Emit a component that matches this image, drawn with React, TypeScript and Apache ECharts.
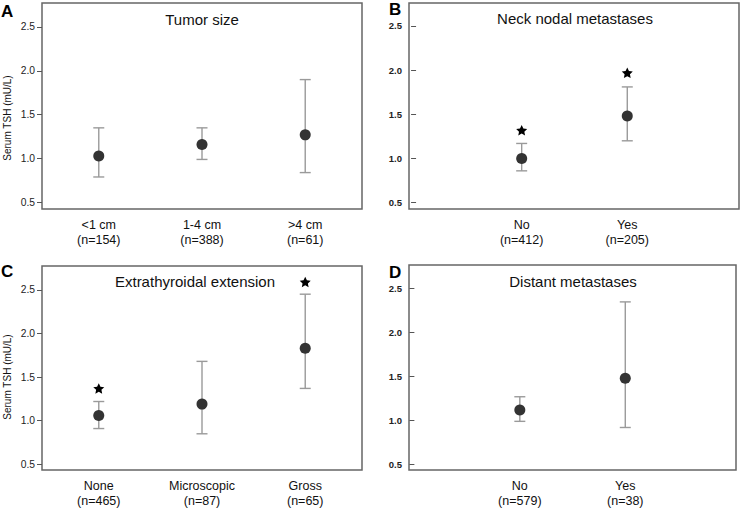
import React, { useEffect, useRef } from "react";
import * as echarts from "echarts";

// ---- Data ----
const panelLetters = ["A", "B", "C", "D"];
const panelTitles = ["Tumor size", "Neck nodal metastases", "Extrathyroidal extension", "Distant metastases"];
const yAxisTitle = "Serum TSH (mU/L)";
const yTicks = [0.5, 1.0, 1.5, 2.0, 2.5];

const tumorCategories = ["<1 cm", "1-4 cm", ">4 cm"];
const tumorN = [154, 388, 61];
const tumorMean = [1.03, 1.16, 1.27];
const tumorLow = [0.79, 0.99, 0.84];
const tumorHigh = [1.35, 1.35, 1.9];
const tumorStars: (number | null)[] = [null, null, null];

const neckCategories = ["No", "Yes"];
const neckN = [412, 205];
const neckMean = [1.0, 1.48];
const neckLow = [0.86, 1.2];
const neckHigh = [1.17, 1.81];
const neckStars: (number | null)[] = [1.32, 1.97];

const eteCategories = ["None", "Microscopic", "Gross"];
const eteN = [465, 87, 65];
const eteMean = [1.06, 1.19, 1.83];
const eteLow = [0.91, 0.85, 1.37];
const eteHigh = [1.22, 1.68, 2.45];
const eteStars: (number | null)[] = [1.37, null, 2.59];

const distantCategories = ["No", "Yes"];
const distantN = [579, 38];
const distantMean = [1.12, 1.48];
const distantLow = [0.99, 0.92];
const distantHigh = [1.27, 2.35];
const distantStars: (number | null)[] = [null, null];

const FONT = '"Liberation Sans", Arial, Helvetica, sans-serif';
const STAR =
  "path://M0 -10 L2.9 -3.9 L9.51 -3.09 L4.6 1.5 L5.88 8.09 L0 4.8 L-5.88 8.09 L-4.6 1.5 L-9.51 -3.09 L-2.9 -3.9 Z";

const panels = [
  { cats: tumorCategories, n: tumorN, mean: tumorMean, low: tumorLow, high: tumorHigh, stars: tumorStars,
    grid: { left: 42, top: 3, width: 320, height: 206 }, xMin: 0.45, xMax: 3.55, yMin: 0.425, yMax: 2.773, bold: false },
  { cats: neckCategories, n: neckN, mean: neckMean, low: neckLow, high: neckHigh, stars: neckStars,
    grid: { left: 409, top: 3, width: 330, height: 206 }, xMin: -0.067, xMax: 3.058, yMin: 0.428, yMax: 2.76, bold: true },
  { cats: eteCategories, n: eteN, mean: eteMean, low: eteLow, high: eteHigh, stars: eteStars,
    grid: { left: 42, top: 266, width: 320, height: 205 }, xMin: 0.45, xMax: 3.55, yMin: 0.435, yMax: 2.773, bold: false },
  { cats: distantCategories, n: distantN, mean: distantMean, low: distantLow, high: distantHigh, stars: distantStars,
    grid: { left: 409, top: 265, width: 327, height: 205 }, xMin: -0.051, xMax: 3.05, yMin: 0.436, yMax: 2.77, bold: true },
];

const titlePos = [
  { x: 202, y: 19 },
  { x: 575, y: 18.5 },
  { x: 195, y: 281.5 },
  { x: 573, y: 281 },
];
const letterPos = [
  { x: 1, y: 11.5 },
  { x: 389, y: 9.5 },
  { x: 1, y: 271 },
  { x: 389, y: 272 },
];

export default function App() {
  const ref = useRef<HTMLDivElement>(null);
  useEffect(() => {
    document.body.style.margin = "0";
    const chart = echarts.init(ref.current!, null, { renderer: "svg" });

    const grids: any[] = [];
    const xAxes: any[] = [];
    const yAxes: any[] = [];
    const series: any[] = [];

    panels.forEach((p, i) => {
      grids.push({ ...p.grid, show: true, borderColor: "#666", borderWidth: 1.5, containLabel: false });
      const idx = p.cats.map((_, k) => k + 1);
      xAxes.push({
        type: "value", gridIndex: i, min: p.xMin, max: p.xMax,
        axisLine: { show: false }, axisTick: { show: false }, splitLine: { show: false },
        axisLabel: {
          customValues: idx, margin: 8, fontSize: 12.5, lineHeight: 15, color: "#111", fontFamily: FONT,
          formatter: (v: number) => {
            const k = Math.round(v) - 1;
            return `${p.cats[k]}\n(n=${p.n[k]})`;
          },
        },
      });
      yAxes.push({
        type: "value", gridIndex: i, min: p.yMin, max: p.yMax,
        axisLine: { show: false }, splitLine: { show: false },
        axisTick: { show: true, customValues: yTicks, length: 5, lineStyle: { color: "#555", width: 1 } },
        axisLabel: {
          customValues: yTicks, margin: 7, fontSize: p.bold ? 9.5 : 10.3,
          fontWeight: p.bold ? "bold" : "normal", color: "#222", fontFamily: FONT,
          formatter: (v: number) => v.toFixed(1),
        },
      });
      series.push({
        type: "custom", xAxisIndex: i, yAxisIndex: i,
        data: idx.map((x, k) => [x, p.low[k], p.high[k]]),
        renderItem: (params: any, api: any) => {
          const lo = api.coord([api.value(0), api.value(1)]);
          const hi = api.coord([api.value(0), api.value(2)]);
          const st = { stroke: "#9a9a9a", lineWidth: 1.4 };
          const w = 5.5;
          return {
            type: "group",
            children: [
              { type: "line", shape: { x1: lo[0], y1: lo[1], x2: hi[0], y2: hi[1] }, style: st },
              { type: "line", shape: { x1: lo[0] - w, y1: lo[1], x2: lo[0] + w, y2: lo[1] }, style: st },
              { type: "line", shape: { x1: hi[0] - w, y1: hi[1], x2: hi[0] + w, y2: hi[1] }, style: st },
            ],
          };
        },
        z: 2,
      });
      series.push({
        type: "scatter", xAxisIndex: i, yAxisIndex: i,
        data: idx.map((x, k) => [x, p.mean[k]]),
        symbol: "circle", symbolSize: 11,
        itemStyle: { color: "#333", opacity: 1 },
        z: 3,
      });
      const starData = idx
        .map((x, k) => (p.stars[k] == null ? null : [x, p.stars[k]]))
        .filter((d) => d !== null);
      if (starData.length) {
        series.push({
          type: "scatter", xAxisIndex: i, yAxisIndex: i,
          data: starData, symbol: STAR, symbolSize: [11, 10.5],
          itemStyle: { color: "#000", opacity: 1 }, z: 4,
        });
      }
    });

    const graphics: any[] = [];
    panelTitles.forEach((t, i) => {
      graphics.push({
        type: "text", x: titlePos[i].x, y: titlePos[i].y,
        style: { text: t, fontSize: 15, fontFamily: FONT, fill: "#111", align: "center", verticalAlign: "middle" },
      });
      graphics.push({
        type: "text", x: letterPos[i].x, y: letterPos[i].y,
        style: { text: panelLetters[i], fontSize: 17, fontWeight: "bold", fontFamily: FONT, fill: "#000", align: "left", verticalAlign: "middle" },
      });
    });
    [118, 377].forEach((cy) => {
      graphics.push({
        type: "text", x: 7.5, y: cy, rotation: Math.PI / 2,
        style: { text: yAxisTitle, fontSize: 10, fontFamily: FONT, fill: "#111", align: "center", verticalAlign: "middle" },
      });
    });

    chart.setOption({
      animation: false,
      backgroundColor: "#fff",
      grid: grids,
      xAxis: xAxes,
      yAxis: yAxes,
      series,
      graphic: graphics,
    });
    return () => chart.dispose();
  }, []);
  return <div ref={ref} style={{ position: "absolute", left: 0, top: 0, width: 741, height: 508 }} />;
}
